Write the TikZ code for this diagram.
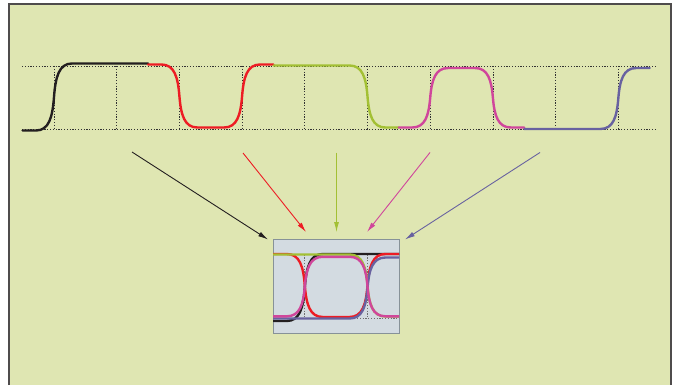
\documentclass[tikz,border=0pt]{standalone}
\usetikzlibrary{arrows.meta}
\definecolor{bggreen}{RGB}{223,230,178}
\definecolor{wblack}{RGB}{35,31,32}
\definecolor{wred}{RGB}{237,28,36}
\definecolor{wgreen}{RGB}{163,192,52}
\definecolor{wmag}{RGB}{208,70,155}
\definecolor{wpurp}{RGB}{104,98,160}
\definecolor{eyefill}{RGB}{211,219,225}
\definecolor{eyeedge}{RGB}{135,146,152}
\definecolor{gridcol}{RGB}{50,50,50}
\tikzset{
  wave/.style={line width=2.4pt, line cap=round, line join=round},
  grid line/.style={gridcol, line width=0.8pt, dash pattern=on 1.2pt off 1.6pt},
  eye grid/.style={gridcol!70, line width=0.7pt, dash pattern=on 1.2pt off 1.6pt},
  feed/.style={line width=0.9pt, -{Latex[length=10pt,width=5pt]}},
  eyebox/.style={draw=eyeedge, fill=eyefill, line width=1pt, minimum width=126pt, minimum height=94pt, inner sep=0pt}
}
% transition centred at #1 from level #2 to level #3
\newcommand\trans[3]{-- ({#1-18},#2) .. controls ({#1-5},#2) and ({#1-1.5},{#2+0.2*(#3-#2)}) .. ({#1},{0.5*(#2+#3)}) .. controls ({#1+1.5},{#3-0.2*(#3-#2)}) and ({#1+5},#3) .. ({#1+18},#3)}
% segment: #1 colour, #2 start x, #3 level0, #4 level1, #5 level2
\newcommand\wseg[5]{\draw[wave,#1] ({#2},#3) \trans{#2+31.35}{#3}{#4} \trans{#2+94.05}{#4}{#5} -- ({#2+125.4},#5);}
\begin{document}
\begin{tikzpicture}[x=1pt,y=-1pt]
\useasboundingbox (0,0) rectangle (676,385);
\fill[white] (0,0) rectangle (676,385);
\fill[bggreen] (9,4) rectangle (671,385);
\draw[wblack!80, line width=1.2pt] (9,385) -- (9,4) -- (671,4) -- (671,385);
% grid
\draw[grid line] (22,66) -- (655,66);
\draw[grid line] (22,129) -- (655,129);
\foreach \n in {0,...,9} { \draw[grid line] ({54+62.7*\n},66) -- ({54+62.7*\n},129); }
% waveform
\wseg{wblack}{22.65}{130.5}{63.5}{63.5}
\wseg{wred}{148.05}{64.5}{127.5}{64.5}
\wseg{wgreen}{273.45}{65.5}{65.5}{127.5}
\wseg{wmag}{398.85}{127.5}{68}{127.5}
\wseg{wpurp}{524.25}{129}{129}{68}
% eye diagram
\node[eyebox] (eye) at (336,286.5) {};
\draw[eye grid] (273,254.5) -- (399,254.5);
\draw[eye grid] (273,318) -- (399,318);
\draw[eye grid] (304.8,254.5) -- (304.8,318);
\draw[eye grid] (367.5,254.5) -- (367.5,318);
\begin{scope}
\clip (273,240) rectangle (399,333);
\begin{scope}[xshift=250.8pt,yshift=-190.5pt] \wseg{wblack}{22.65}{130.5}{63.5}{63.5} \end{scope}
\begin{scope}[xshift=125.4pt,yshift=-189.5pt] \wseg{wred}{148.05}{64.5}{127.5}{64.5} \end{scope}
\begin{scope}[yshift=-189pt] \wseg{wgreen}{273.45}{65.5}{65.5}{127.5} \end{scope}
\begin{scope}[xshift=-250.8pt,yshift=-189.5pt] \wseg{wpurp}{524.25}{129}{129}{68} \end{scope}
\begin{scope}[xshift=-125.4pt,yshift=-188.8pt] \wseg{wmag}{398.85}{127.5}{68}{127.5} \end{scope}
\end{scope}
% feeder arrows
\coordinate (s1) at (132,152); \coordinate (e1) at (268,239.5);
\coordinate (s2) at (243,153); \coordinate (e2) at (306,232);
\coordinate (s3) at (336.5,152.5); \coordinate (e3) at (336.5,232);
\coordinate (s4) at (430,152.5); \coordinate (e4) at (367,232);
\coordinate (s5) at (540,152.5); \coordinate (e5) at (405,239.5);
\draw[feed,wblack] (s1) -- (e1);
\draw[feed,wred] (s2) -- (e2);
\draw[feed,wgreen] (s3) -- (e3);
\draw[feed,wmag] (s4) -- (e4);
\draw[feed,wpurp] (s5) -- (e5);
\end{tikzpicture}
\end{document}
